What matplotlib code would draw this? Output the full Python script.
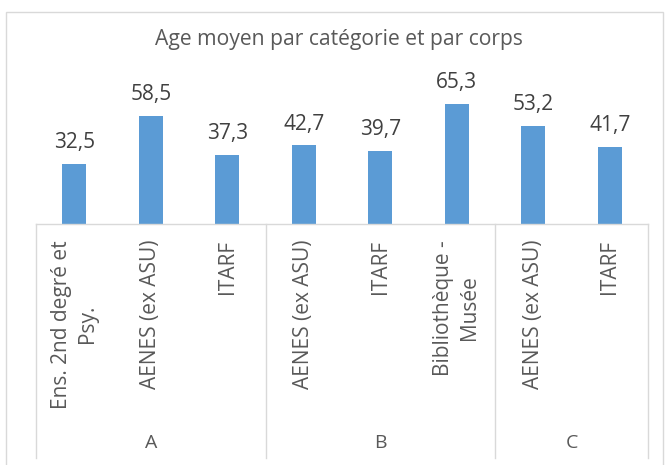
import matplotlib
matplotlib.use("Agg")
import matplotlib.pyplot as plt
from matplotlib.patches import Rectangle

# data
corps = ["Ens. 2nd degré et\nPsy.", "AENES (ex ASU)", "ITARF",
         "AENES (ex ASU)", "ITARF", "Bibliothèque -\nMusée",
         "AENES (ex ASU)", "ITARF"]
categories = ["A", "A", "A", "B", "B", "B", "C", "C"]
ages = [32.5, 58.5, 37.3, 42.7, 39.7, 65.3, 53.2, 41.7]
title = "Age moyen par catégorie et par corps"

plt.rcParams['font.family'] = ['Open Sans', 'DejaVu Sans']
W, H = 666, 465
fig = plt.figure(figsize=(W / 100, H / 100), dpi=100)

base_px, top_px = 224, 95.3
ax = fig.add_axes([36 / W, 1 - base_px / H, (648 - 36) / W, (base_px - top_px) / H])
ax.set_xlim(-0.5, len(ages) - 0.5)
ax.set_ylim(0, 70)
ax.axis("off")

x = list(range(len(ages)))
ax.bar(x, ages, width=0.314, color="#5B9BD5", zorder=2)

for xi, v in zip(x, ages):
    ax.annotate(f"{v:.1f}".replace(".", ","), (xi, v), xytext=(0, 11.5),
                textcoords="offset points", ha="center", va="baseline",
                fontsize=15, color="#404040")

# axis text
for xi, lab in zip(x, corps):
    ax.annotate(lab, (xi, 0), xytext=(0, -11.5), textcoords="offset points",
                rotation=90, ha="center", va="top", multialignment="center",
                fontsize=15, color="#595959", linespacing=1.3)

ax_h = base_px - top_px
tr = ax.get_xaxis_transform()
line_bottom = -(458 - base_px) / ax_h
grey = "#d9d9d9"
ax.plot([-0.5, len(ages) - 0.5], [0, 0], transform=tr, color=grey, lw=1, clip_on=False)

# group boundaries
bounds = [-0.5]
groups = []
for i, c in enumerate(categories):
    if i == 0 or c != categories[i - 1]:
        groups.append([c, i, i])
        if i > 0:
            bounds.append(i - 0.5)
    else:
        groups[-1][2] = i
bounds.append(len(ages) - 0.5)
for b in bounds:
    ax.plot([b, b], [0, line_bottom], transform=tr, color=grey, lw=1, clip_on=False)
for name, i0, i1 in groups:
    ax.text((i0 + i1) / 2, -(443 - base_px) / ax_h, name, transform=tr,
            ha="center", va="center", fontsize=14, color="#595959")

fig.text(338.5 / W, 1 - 40 / H, title, ha="center", va="center",
         fontsize=15.2, color="#595959")

fig.add_artist(Rectangle((6 / W, -0.02), (663 - 6) / W, 1 - 12 / H + 0.02,
                         transform=fig.transFigure, fill=False,
                         edgecolor=grey, lw=1))

fig.savefig("out.png", dpi=100)
